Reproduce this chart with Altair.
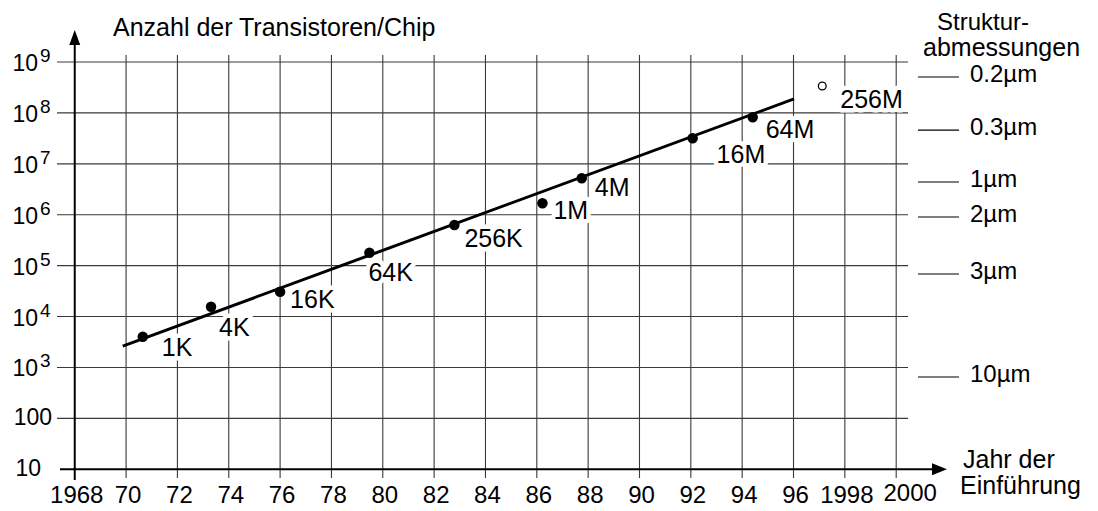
import altair as alt
import pandas as pd

# ---------------- data ----------------
chip_labels = ["1K", "4K", "16K", "64K", "256K", "1M", "4M", "16M", "64M", "256M"]
chip_years = [1970.65, 1973.31, 1976.00, 1979.48, 1982.79, 1986.22, 1987.75, 1992.07, 1994.41, 1997.12]
chip_transistors = [4.0e3, 1.56e4, 3.08e4, 1.79e5, 6.28e5, 1.68e6, 5.2e6, 3.17e7, 8.2e7, 3.38e8]
chip_projected = [False, False, False, False, False, False, False, False, False, True]

trend_years = [1969.87, 1996.02]
trend_transistors = [2.63e3, 1.88e8]

year_ticks = list(range(1968, 2001, 2))
year_tick_labels = ["1968", "70", "72", "74", "76", "78", "80", "82", "84", "86",
                    "88", "90", "92", "94", "96", "1998", "2000"]

count_grid = [10, 100, 1e3, 1e4, 1e5, 1e6, 1e7, 1e8, 1e9]
pow_ticks = [1e3, 1e4, 1e5, 1e6, 1e7, 1e8, 1e9]
pow_exponents = ["3", "4", "5", "6", "7", "8", "9"]

struct_labels = ["0.2µm", "0.3µm", "1µm", "2µm", "3µm", "10µm"]
struct_levels = [5.07e8, 4.61e7, 4.40e6, 9.02e5, 6.85e4, 650]

# label placement (pixel offsets of label from its point)
label_dx = [19, 8, 10, -1, 10, 11, 13, 24, 13, 18]
label_dy = [11, 21, 8, 20, 14, 8, 10, 17, 13, 14]

FONT = "Liberation Sans"
W, H = 1082, 503

xs = alt.Scale(domain=[1965.40, 2007.55], nice=False, zero=False)
ys = alt.Scale(type="log", domain=[1.517, 1.15e10], nice=False)


def X(field):
    return alt.X(field, type="quantitative", scale=xs, axis=None)


def Y(field):
    return alt.Y(field, type="quantitative", scale=ys, axis=None)


chips = pd.DataFrame({"label": chip_labels, "year": chip_years,
                      "n": chip_transistors, "proj": chip_projected})
trend = pd.DataFrame({"year": trend_years, "n": trend_transistors})
xt = pd.DataFrame({"year": year_ticks, "lab": year_tick_labels})
hg = pd.DataFrame({"n": [v for v in count_grid if v != 10]})
vg = pd.DataFrame({"year": [y for y in year_ticks if y != 1968]})
pw = pd.DataFrame({"n": pow_ticks, "e": pow_exponents, "b": ["10"] * len(pow_ticks)})
st = pd.DataFrame({"lab": struct_labels, "n": struct_levels})

GRID = "#3a3a3a"

layers = []

# horizontal grid lines
layers.append(alt.Chart(hg).mark_rule(color=GRID, strokeWidth=1.1).encode(
    y=Y("n"), x=alt.value(49), x2=alt.value(900)))
# vertical grid lines
layers.append(alt.Chart(vg).mark_rule(color=GRID, strokeWidth=1.1).encode(
    x=X("year"), y=alt.value(47), y2=alt.value(470)))

# axes
layers.append(alt.Chart(pd.DataFrame({"n": [10]})).mark_rule(color="black", strokeWidth=2).encode(
    y=Y("n"), x=alt.value(52), x2=alt.value(925)))
layers.append(alt.Chart(pd.DataFrame({"year": [1968]})).mark_rule(color="black", strokeWidth=2).encode(
    x=X("year"), y=alt.value(30), y2=alt.value(472)))
# arrow heads
layers.append(alt.Chart(pd.DataFrame({"year": [1968]})).mark_point(
    shape="M0,-1L0.73,1L-0.73,1Z", size=225, filled=True, color="black", opacity=1).encode(
    x=X("year"), y=alt.value(29.5)))
layers.append(alt.Chart(pd.DataFrame({"n": [10]})).mark_point(
    shape="M1,0L-1,-0.8L-1,0.8Z", size=225, filled=True, color="black", opacity=1).encode(
    y=Y("n"), x=alt.value(931.5)))

# trend line
layers.append(alt.Chart(trend).mark_line(color="black", strokeWidth=3).encode(
    x=X("year"), y=Y("n")))

# points
layers.append(alt.Chart(chips).transform_filter("!datum.proj").mark_point(
    filled=True, color="black", size=110, opacity=1).encode(x=X("year"), y=Y("n")))
layers.append(alt.Chart(chips).transform_filter("datum.proj").mark_point(
    filled=False, fill="white", stroke="black", strokeWidth=1.3, size=60, opacity=1).encode(
    x=X("year"), y=Y("n")))

# point labels with white box-like halo
for lab, dx, dy in zip(chip_labels, label_dx, label_dy):
    base = alt.Chart(chips).transform_filter(alt.datum.label == lab)
    layers.append(base.mark_text(font=FONT, fontSize=25, align="left", baseline="middle",
                                 dx=dx, dy=dy, stroke="white", strokeWidth=9,
                                 strokeJoin="round", fill="white").encode(
        x=X("year"), y=Y("n"), text="label:N"))
    layers.append(base.mark_text(font=FONT, fontSize=25, align="left", baseline="middle",
                                 dx=dx, dy=dy, color="black").encode(
        x=X("year"), y=Y("n"), text="label:N"))

# x tick labels
layers.append(alt.Chart(xt).transform_filter("datum.year < 2000").mark_text(
    font=FONT, fontSize=24, align="center", baseline="middle", dx=2, color="black").encode(
    x=X("year"), y=alt.value(488), text="lab:N"))
layers.append(alt.Chart(xt).transform_filter("datum.year == 2000").mark_text(
    font=FONT, fontSize=24, align="center", baseline="middle", dx=14, dy=-2, color="black").encode(
    x=X("year"), y=alt.value(488), text="lab:N"))

# y tick labels (powers of ten)
layers.append(alt.Chart(pw).mark_text(font=FONT, fontSize=23, align="right",
                                      baseline="middle", dy=2, color="black").encode(
    y=Y("n"), x=alt.value(30), text="b:N"))
layers.append(alt.Chart(pw).mark_text(font=FONT, fontSize=19, align="left",
                                      baseline="alphabetic", color="black").encode(
    y=Y("n"), x=alt.value(32), text="e:N"))
layers.append(alt.Chart(pd.DataFrame({"n": [100], "t": ["100"]})).mark_text(
    font=FONT, fontSize=23, align="right", baseline="middle", color="black").encode(
    y=Y("n"), x=alt.value(44), text="t:N"))
layers.append(alt.Chart(pd.DataFrame({"n": [10], "t": ["10"]})).mark_text(
    font=FONT, fontSize=23, align="right", baseline="middle", color="black").encode(
    y=Y("n"), x=alt.value(33), text="t:N"))

# structure-size scale on the right
layers.append(alt.Chart(st).mark_rule(color="black", strokeWidth=1.2).encode(
    y=Y("n"), x=alt.value(910), x2=alt.value(951)))
layers.append(alt.Chart(st).mark_text(font=FONT, fontSize=24, align="left",
                                      baseline="middle", dy=-2, color="black").encode(
    y=Y("n"), x=alt.value(962), text="lab:N"))


def note(txt, x, y, size=25):
    return alt.Chart(pd.DataFrame({"t": [txt]})).mark_text(
        font=FONT, fontSize=size, align="left", baseline="alphabetic", color="black").encode(
        x=alt.value(x), y=alt.value(y), text="t:N")


layers.append(note("Anzahl der Transistoren/Chip", 105, 28))
layers.append(note("Struktur-", 929, 22, 24))
layers.append(note("abmessungen", 915, 48))
layers.append(note("Jahr der", 955, 460))
layers.append(note("Einführung", 952, 486))

chart = alt.layer(*layers).properties(
    width=W, height=H, autosize=alt.AutoSizeParams(type="none"), padding=0
).configure_view(stroke=None)

chart.save("out.html", embed_options={"renderer": "svg", "actions": False})
